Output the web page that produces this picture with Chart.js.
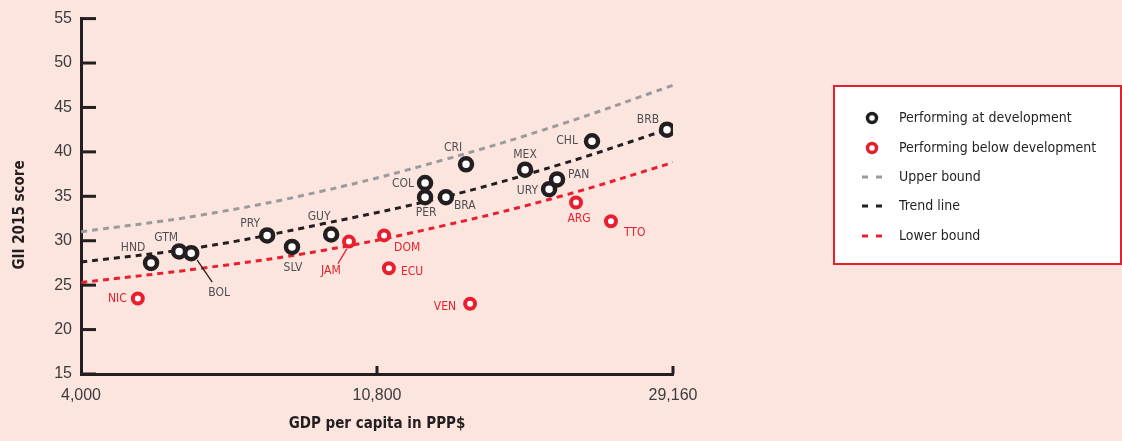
<!DOCTYPE html>
<html>
<head>
<meta charset="utf-8">
<script src="https://cdn.jsdelivr.net/npm/chart.js@4.4.1/dist/chart.umd.min.js"></script>
<style>
  html, body { margin: 0; padding: 0; background: #fde5df; }
  canvas { display: block; }
</style>
</head>
<body>
<canvas id="myChart" width="1122" height="441"></canvas>
<script>
// countries performing at development
const atCodes = ['HND', 'GTM', 'BOL', 'PRY', 'SLV', 'GUY', 'COL', 'PER', 'BRA', 'CRI', 'MEX', 'URY', 'PAN', 'CHL', 'BRB'];
const atGdp = [5060, 5560, 5790, 7470, 8120, 9260, 12690, 12690, 13610, 14560, 17750, 19240, 19760, 22220, 28580];
const atScore = [27.5, 28.8, 28.6, 30.6, 29.3, 30.7, 36.5, 34.9, 34.9, 38.6, 38.0, 35.8, 36.9, 41.2, 42.5];

// countries performing below development
const belowCodes = ['NIC', 'JAM', 'DOM', 'ECU', 'VEN', 'ARG', 'TTO'];
const belowGdp = [4840, 9830, 11060, 11240, 14760, 21060, 23680];
const belowScore = [23.5, 29.9, 30.6, 26.9, 22.9, 34.3, 32.2];

// bound / trend curves
const boundGdp = [4000, 6000, 9000, 13500, 20000, 29160];
const upperScore = [31.0, 32.9, 35.6, 39.1, 43.1, 47.5];
const lowerScore = [25.3, 26.9, 28.9, 31.7, 35.0, 38.8];
const trendGdp = [4000, 6000, 9000, 13500, 20000, 28580];
const trendScore = [27.6, 29.3, 31.9, 34.9, 38.6, 42.5];

const xTicks = [4000, 10800, 29160];

const BLACK = '#231f20';
const RED = '#e8202e';
const GREY = '#9b9b9b';
const NARROW = '"Liberation Sans Narrow", "DejaVu Sans Condensed", sans-serif';

const pts = (xs, ys) => xs.map((x, i) => ({x: x, y: ys[i]}));

// label placement: [dx, dy, align, leader line]
const labelPos = {
  NIC: [-11, 0, 'right'],
  HND: [-18, -15, 'center'],
  GTM: [-13, -14, 'center'],
  BOL: [28, 40, 'center', [6, 7, 21, 29]],
  PRY: [-17, -12, 'center'],
  SLV: [1, 21, 'center'],
  GUY: [-12, -18, 'center'],
  JAM: [-18, 29, 'center', [-2, 7, -11, 22]],
  DOM: [10, 12, 'left'],
  ECU: [12, 4, 'left'],
  COL: [-11, 1, 'right'],
  PER: [1, 16, 'center'],
  BRA: [8, 9, 'left'],
  CRI: [-13, -16, 'center'],
  VEN: [-14, 3, 'right'],
  MEX: [0, -15, 'center'],
  URY: [-11, 2, 'right'],
  PAN: [11, -5, 'left'],
  ARG: [3, 16, 'center'],
  CHL: [-14, 0, 'right'],
  TTO: [13, 12, 'left'],
  BRB: [-19, -10, 'center']
};

const decorations = {
  id: 'decorations',
  afterDatasetsDraw(chart) {
    const ctx = chart.ctx;
    ctx.save();
    ctx.font = '12px ' + NARROW;
    ctx.textBaseline = 'middle';
    [[0, atCodes, '#4f4f51', BLACK], [1, belowCodes, RED, RED]].forEach(([di, codes, color, lineColor]) => {
      chart.getDatasetMeta(di).data.forEach((pt, i) => {
        const p = labelPos[codes[i]];
        ctx.fillStyle = color;
        ctx.textAlign = p[2];
        ctx.fillText(codes[i], pt.x + p[0], pt.y + p[1]);
        if (p[3]) {
          ctx.strokeStyle = lineColor;
          ctx.lineWidth = 1.3;
          ctx.beginPath();
          ctx.moveTo(pt.x + p[3][0], pt.y + p[3][1]);
          ctx.lineTo(pt.x + p[3][2], pt.y + p[3][3]);
          ctx.stroke();
        }
      });
    });
    ctx.restore();
  },
  afterDraw(chart) {
    const ctx = chart.ctx;
    const xs = chart.scales.x, ys = chart.scales.y;
    ctx.save();
    // tick marks inside the axes
    ctx.fillStyle = BLACK;
    ys.ticks.forEach(t => {
      const py = ys.getPixelForValue(t.value);
      ctx.fillRect(ys.right, py - 1.5, 15, 3);
    });
    xTicks.slice(1).forEach(v => {
      const px = xs.getPixelForValue(v);
      ctx.fillRect(px - 1.5, xs.top - 8, 3, 8);
    });

    // y axis title
    ctx.save();
    ctx.translate(20, 215);
    ctx.rotate(-Math.PI / 2);
    ctx.font = 'bold 15px ' + NARROW;
    ctx.textAlign = 'center';
    ctx.textBaseline = 'middle';
    ctx.fillStyle = BLACK;
    ctx.fillText('GII 2015 score', 0, 0);
    ctx.restore();

    // legend box
    const lx = 834, ly = 86, lw = 287, lh = 178;
    ctx.fillStyle = '#fff';
    ctx.fillRect(lx, ly, lw, lh);
    ctx.strokeStyle = RED;
    ctx.lineWidth = 2;
    ctx.strokeRect(lx, ly, lw, lh);

    const rows = [118, 148, 177, 206, 236];
    ctx.font = '14px ' + NARROW;
    ctx.textAlign = 'left';
    ctx.textBaseline = 'middle';
    chart.data.datasets.forEach((ds, i) => {
      const y = rows[i];
      if (i < 2) {
        ctx.beginPath();
        ctx.arc(872, y, 4.5, 0, Math.PI * 2);
        ctx.fillStyle = '#fff';
        ctx.fill();
        ctx.strokeStyle = ds.borderColor;
        ctx.lineWidth = 3.5;
        ctx.stroke();
      } else {
        ctx.fillStyle = ds.borderColor;
        ctx.fillRect(862, y - 1.5, 6, 3);
        ctx.fillRect(876, y - 1.5, 6, 3);
      }
      ctx.fillStyle = BLACK;
      ctx.fillText(ds.label, 899, y);
    });
    ctx.restore();
  }
};

const lineStyle = {
  type: 'line',
  showLine: true,
  fill: false,
  pointRadius: 0,
  borderWidth: 3,
  borderDash: [6, 5],
  tension: 0.4,
  order: 2
};

const data = {
  datasets: [{
    label: 'Performing at development',
    data: pts(atGdp, atScore),
    borderColor: BLACK,
    backgroundColor: '#fff',
    pointRadius: 6,
    pointBorderWidth: 4.5,
    showLine: false,
    order: 0
  }, {
    label: 'Performing below development',
    data: pts(belowGdp, belowScore),
    borderColor: RED,
    backgroundColor: '#fff',
    pointRadius: 5,
    pointBorderWidth: 4,
    showLine: false,
    order: 0
  }, Object.assign({}, lineStyle, {
    label: 'Upper bound',
    data: pts(boundGdp, upperScore),
    borderColor: GREY
  }), Object.assign({}, lineStyle, {
    label: 'Trend line',
    data: pts(trendGdp, trendScore),
    borderColor: BLACK
  }), Object.assign({}, lineStyle, {
    label: 'Lower bound',
    data: pts(boundGdp, lowerScore),
    borderColor: RED
  })]
};

const config = {
  type: 'scatter',
  data: data,
  plugins: [decorations],
  options: {
    responsive: false,
    animation: false,
    events: [],
    layout: { padding: { top: 18, right: 449, left: 0, bottom: 0 } },
    plugins: {
      legend: { display: false },
      tooltip: { enabled: false }
    },
    scales: {
      x: {
        type: 'logarithmic',
        min: 4000,
        max: 29160,
        afterFit: s => { s.height = 67; },
        afterBuildTicks: s => { s.ticks = xTicks.map(v => ({value: v})); },
        grid: { display: false, drawTicks: false },
        border: { display: true, color: BLACK, width: 3 },
        ticks: {
          autoSkip: false,
          maxRotation: 0,
          padding: 12,
          color: '#3c3c3c',
          font: { family: '"Liberation Sans", Arial, sans-serif', size: 16 },
          callback: v => v.toLocaleString('en-US')
        },
        title: {
          display: true,
          text: 'GDP per capita in PPP$',
          color: BLACK,
          padding: { top: 0, bottom: 8 },
          font: { family: NARROW, size: 15, weight: 'bold' }
        }
      },
      y: {
        min: 15,
        max: 55,
        afterFit: s => { s.width = 81; },
        grid: { display: false, drawTicks: false },
        border: { display: true, color: BLACK, width: 3 },
        ticks: {
          stepSize: 5,
          padding: 9,
          color: '#3c3c3c',
          font: { family: '"Liberation Sans", Arial, sans-serif', size: 16 }
        }
      }
    }
  }
};

new Chart(document.getElementById('myChart'), config);
</script>
</body>
</html>
